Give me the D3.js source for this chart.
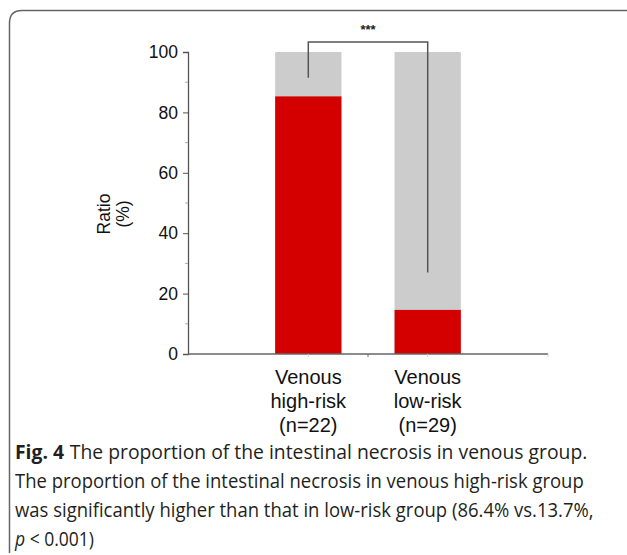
<!DOCTYPE html>
<html><head><meta charset="utf-8">
<script src="https://cdn.jsdelivr.net/npm/d3@7"></script>
<style>body{margin:0;background:#fff}</style>
</head><body>
<script>
const categories = ["high", "low"];
const catLines = [["Venous","high-risk","(n=22)"],["Venous","low-risk","(n=29)"]];
const necrosis = [85.3, 14.6];
const total = [100, 100];
const yTicks = [0, 20, 40, 60, 80, 100];
const yMinor = [10, 30, 50, 70, 90];
const sigLabel = "***";
const captionBold = "Fig. 4";
const captionLines = [
  "The proportion of the intestinal necrosis in venous group.",
  "The proportion of the intestinal necrosis in venous high-risk group",
  "was significantly higher than that in low-risk group (86.4% vs.13.7%,",
];

const W = 627, H = 555;
const svg = d3.select("body").append("svg").attr("width", W).attr("height", H);

// frame
svg.append("path")
  .attr("d", "M 9.5 553 L 9.5 23 Q 9.5 10.5 22 10.5 L 627 10.5")
  .attr("fill", "none").attr("stroke", "#666").attr("stroke-width", 1.5);

const y = d3.scaleLinear().domain([0, 100]).range([354, 52]);
const x = d3.scaleBand().domain(categories).range([188, 548]).paddingInner(0.445).paddingOuter(0.73);

const g = svg.append("g").attr("font-family", "Liberation Sans, Arial, sans-serif");

// bars
g.selectAll("rect.bg").data(categories).join("rect")
  .attr("x", d => x(d)).attr("width", x.bandwidth())
  .attr("y", (d,i) => y(total[i])).attr("height", (d,i) => y(0) - y(total[i]))
  .attr("fill", "#cccccc");
g.selectAll("rect.fg").data(categories).join("rect")
  .attr("x", d => x(d)).attr("width", x.bandwidth())
  .attr("y", (d,i) => y(necrosis[i])).attr("height", (d,i) => y(0) - y(necrosis[i]))
  .attr("fill", "#d40000");

// y axis
const yAxis = d3.axisLeft(y).tickValues(yTicks).tickSize(5).tickPadding(5);
const ya = g.append("g").attr("transform", "translate(188,0)").call(yAxis);
ya.select(".domain").attr("stroke", "#555").attr("stroke-width", 1.3);
ya.selectAll(".tick line").attr("stroke", "#555");
ya.selectAll(".tick text").attr("font-size", 17.5).attr("fill", "#111").attr("font-family", "Liberation Sans, Arial, sans-serif");
g.append("g").selectAll("line").data(yMinor).join("line")
  .attr("x1", 185).attr("x2", 188).attr("y1", d => y(d)).attr("y2", d => y(d))
  .attr("stroke", "#aaa");

// x axis
g.append("line").attr("x1", 188).attr("x2", 548).attr("y1", y(0)).attr("y2", y(0))
  .attr("stroke", "#666").attr("stroke-width", 1.5);
g.selectAll("line.xt").data(categories).join("line")
  .attr("x1", d => x(d) + x.bandwidth()/2).attr("x2", d => x(d) + x.bandwidth()/2)
  .attr("y1", y(0)).attr("y2", y(0) + 3).attr("stroke", "#ccc");
g.append("line").attr("x1", (188+548)/2).attr("x2", (188+548)/2)
  .attr("y1", y(0)).attr("y2", y(0) + 3).attr("stroke", "#666");
g.append("line").attr("x1", 548).attr("x2", 548)
  .attr("y1", y(0)).attr("y2", y(0) + 3).attr("stroke", "#ccc");

// x labels
categories.forEach((c, i) => {
  catLines[i].forEach((t, j) => {
    g.append("text").attr("x", x(c) + x.bandwidth()/2).attr("y", 384 + j*24)
      .attr("text-anchor", "middle").attr("font-size", 20).attr("fill", "#111").text(t);
  });
});

// y label
const yl = g.append("text").attr("transform", "translate(110,214) rotate(-90)")
  .attr("text-anchor", "middle").attr("font-size", 17.5).attr("fill", "#111");
yl.append("tspan").attr("x", 0).attr("dy", 0).text("Ratio");
yl.append("tspan").attr("x", 0).attr("dy", 19).text("(%)");

// significance bracket
const cx0 = x("high") + x.bandwidth()/2, cx1 = x("low") + x.bandwidth()/2;
g.append("path")
  .attr("d", `M${cx0},${y(91.5)} L${cx0},${y(103.3)} L${cx1},${y(103.3)} L${cx1},${y(27)}`)
  .attr("fill", "none").attr("stroke", "#555").attr("stroke-width", 1.5);
g.append("text").attr("x", (cx0+cx1)/2).attr("y", 34).attr("text-anchor", "middle")
  .attr("font-size", 13).attr("font-weight", "bold").attr("fill", "#222").text(sigLabel);

// caption: each line rendered at natural width then squeezed horizontally to the reference width
const cap = svg.append("g").attr("font-family", "Open Sans, Noto Sans, sans-serif").attr("fill", "#231f20");
function line(yPos, target, build) {
  const gg = cap.append("g");
  const t = gg.append("text").attr("x", 0).attr("y", 0).attr("font-size", 20);
  build(t);
  const n = t.node().getBBox().width;
  const s = n > 0 ? target / n : 1;
  gg.attr("transform", `translate(15,${yPos}) scale(${s},1)`);
}
line(459, 573, t => {
  t.append("tspan").attr("font-weight", "bold").text(captionBold);
  t.append("tspan").attr("dx", 6).text(captionLines[0]);
});
line(488, 569, t => t.text(captionLines[1]));
line(517, 579, t => t.text(captionLines[2]));
line(546, 80, t => {
  t.append("tspan").attr("font-style", "italic").text("p");
  t.append("tspan").text(" < 0.001)");
});
</script>
</body></html>
